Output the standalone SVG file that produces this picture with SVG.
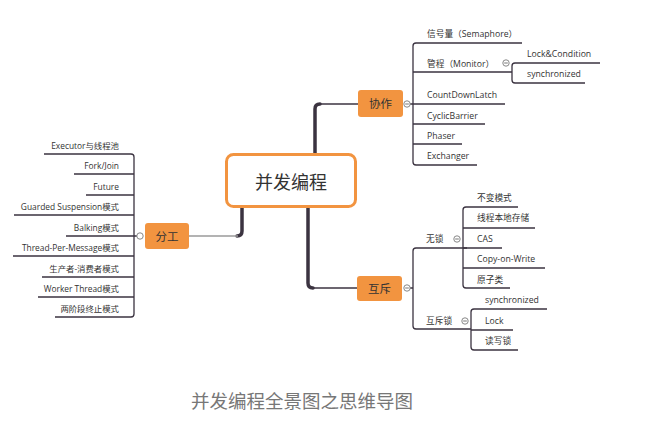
<svg xmlns="http://www.w3.org/2000/svg" width="656" height="432" viewBox="0 0 656 432">
<style>
.leaf{font-family:"Open Sans","Noto Sans CJK SC",sans-serif;font-size:8.7px;fill:#333}
.end{text-anchor:end;font-size:8.4px}
.br{fill:none;stroke:#3b3340;stroke-width:1.3}
.thick{fill:none;stroke:#3b3340;stroke-width:3.5;stroke-linecap:round}
.thin{fill:none;stroke:#9a9a9a;stroke-width:1.3}
.box{fill:#f29440;stroke:none}
.nt{font-family:"Noto Sans CJK SC",sans-serif;font-size:11.5px;fill:#333;text-anchor:middle}
.cir{fill:#fff;stroke:#888;stroke-width:1}
.minus{stroke:#666;stroke-width:0.9}
</style>
<rect width="656" height="432" fill="#fff"/>
<g id="connectors">
  <path class="thick" d="M242,208 V231 Q242,236 237,236"/>
  <path class="thin" d="M189,236 H238"/>
  <path class="thick" d="M315,153 V109 Q315,104 320,104"/>
  <path class="br" d="M320,104 H358"/>
  <path class="thick" d="M308,208 V283 Q308,288 313,288"/>
  <path class="br" d="M313,288 H357"/>
  <path class="br" d="M44,154 H131 Q134,154 134,157 V314 Q134,317 131,317 H55"/>
  <path class="br" d="M74,174 H134 M86,195 H134 M14,215 H134 M66,236 H137 M13,256 H134 M42,277 H134 M38,297 H134"/>
  <path class="br" d="M522,43 H416 Q413,43 413,46 V162 Q413,165 416,165 H477"/>
  <path class="br" d="M413,72 H512 M410,104 H505 M413,124 H485 M413,144 H462"/>
  <path class="br" d="M600,63 H515 Q512,63 512,66 V80 Q512,83 515,83 H585"/>
  <path class="br" d="M467,248 H416 Q413,248 413,251 V326 Q413,329 416,329 H471"/>
  <path class="br" d="M410,288 H413 M463,248 H502"/>
  <path class="br" d="M518,207 H466 Q463,207 463,210 V285 Q463,288 466,288 H510"/>
  <path class="br" d="M463,228 H535 M463,268 H545"/>
  <path class="br" d="M547,309 H474 Q471,309 471,312 V347 Q471,350 474,350 H518"/>
  <path class="br" d="M471,330 H513"/>
</g>
<g id="root">
  <rect x="226.5" y="154.5" width="129" height="52" rx="7" fill="#fff" stroke="#f29440" stroke-width="3"/>
  <text x="291" y="188.5" font-family="Noto Sans CJK SC,sans-serif" font-size="18" fill="#333" text-anchor="middle">并发编程</text>
</g>
<g id="fengong">
  <rect class="box" x="145" y="223" width="44" height="26" rx="3"/>
  <text class="nt" x="167" y="240.5">分工</text>
  <circle class="cir" cx="140" cy="236" r="3.2"/>
</g>
<g id="xiezuo">
  <rect class="box" x="358" y="90" width="45" height="27" rx="3"/>
  <text class="nt" x="380.5" y="108">协作</text>
  <circle class="cir" cx="407" cy="104" r="3.2"/><path class="minus" d="M405.2,104 H408.8"/>
</g>
<g id="huchi">
  <rect class="box" x="357" y="276" width="45" height="25" rx="3"/>
  <text class="nt" x="379.5" y="293">互斥</text>
  <circle class="cir" cx="407" cy="288" r="3.2"/><path class="minus" d="M405.2,288 H408.8"/>
</g>
<g id="left-leaves">
  <text class="leaf end" x="119" y="149">Executor与线程池</text>
  <text class="leaf end" x="119" y="169">Fork/Join</text>
  <text class="leaf end" x="119" y="190">Future</text>
  <text class="leaf end" x="119" y="210">Guarded Suspension模式</text>
  <text class="leaf end" x="119" y="231">Balking模式</text>
  <text class="leaf end" x="119" y="251">Thread-Per-Message模式</text>
  <text class="leaf end" x="119" y="272">生产者-消费者模式</text>
  <text class="leaf end" x="119" y="292">Worker Thread模式</text>
  <text class="leaf end" x="119" y="312">两阶段终止模式</text>
</g>
<g id="coop-leaves">
  <text class="leaf" x="427" y="37">信号量（Semaphore）</text>
  <g id="monitor">
    <text class="leaf" x="427" y="67">管程（Monitor）</text>
    <circle class="cir" cx="506" cy="63" r="3.2"/><path class="minus" d="M504.2,63 H507.8"/>
  </g>
  <text class="leaf" x="527" y="57">Lock&amp;Condition</text>
  <text class="leaf" x="527" y="77">synchronized</text>
  <text class="leaf" x="427" y="98">CountDownLatch</text>
  <text class="leaf" x="427" y="119">CyclicBarrier</text>
  <text class="leaf" x="427" y="139">Phaser</text>
  <text class="leaf" x="427" y="159">Exchanger</text>
</g>
<g id="mutex-leaves">
  <g id="wusuo">
    <text class="leaf" x="426" y="242">无锁</text>
    <circle class="cir" cx="457" cy="239" r="3.2"/><path class="minus" d="M455.2,239 H458.8"/>
  </g>
  <text class="leaf" x="477" y="201">不变模式</text>
  <text class="leaf" x="477" y="221">线程本地存储</text>
  <text class="leaf" x="477" y="242">CAS</text>
  <text class="leaf" x="477" y="262">Copy-on-Write</text>
  <text class="leaf" x="477" y="283">原子类</text>
  <g id="husuosuo">
    <text class="leaf" x="426" y="324">互斥锁</text>
    <circle class="cir" cx="465" cy="321" r="3.2"/><path class="minus" d="M463.2,321 H466.8"/>
  </g>
  <text class="leaf" x="485" y="303">synchronized</text>
  <text class="leaf" x="485" y="324">Lock</text>
  <text class="leaf" x="485" y="344">读写锁</text>
</g>
<text x="302" y="408" font-family="Noto Sans CJK SC,sans-serif" font-size="18.5" fill="#777" text-anchor="middle">并发编程全景图之思维导图</text>
</svg>
